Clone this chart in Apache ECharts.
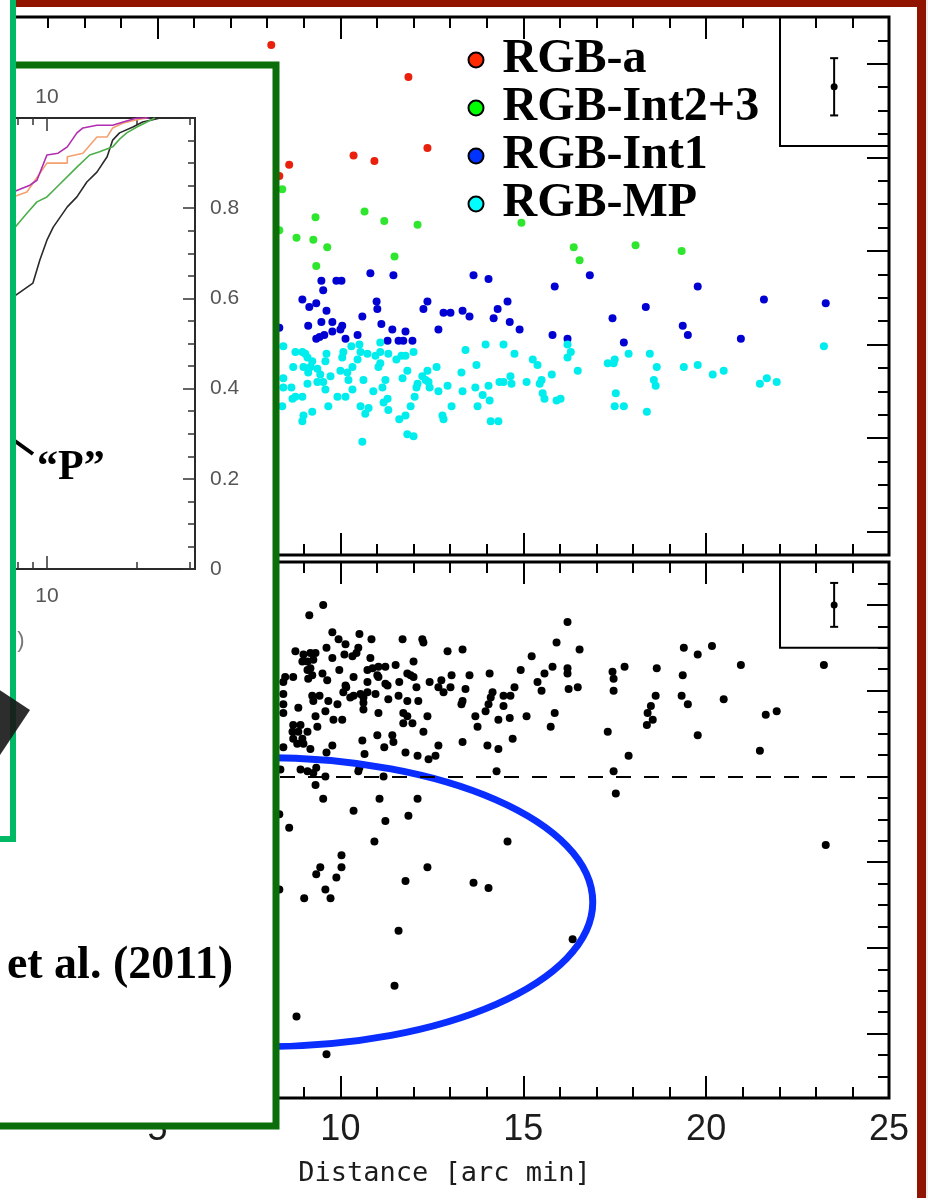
<!DOCTYPE html>
<html><head><meta charset="utf-8">
<script src="https://cdn.jsdelivr.net/npm/echarts@6/dist/echarts.min.js"></script>
<style>html,body{margin:0;padding:0;background:#fff;overflow:hidden}#c{width:928px;height:1198px;}</style>
</head><body><div id="c"></div>
<script>
// ---------- axis ranges / ticks ----------
const xRange = [0.693, 25];
const xMajorTicks = [5, 10, 15, 20, 25];
const xMinorTicks = [1, 2, 3, 4, 6, 7, 8, 9, 11, 12, 13, 14, 16, 17, 18, 19, 21, 22, 23, 24];
const upperYRange = [-2.625, 0.25];
const upperYMajors = [-2.5, -2, -1.5, -1, -0.5, 0];
const lowerYRange = [-1.875, 1.25];
const lowerYMajors = [-1.5, -1, -0.5, 0, 0.5, 1];
const insetXRange = [7.7, 31.3];
const insetXMinorTicks = [8, 9, 20, 30];
const insetXMajorTicks = [10];
const insetYLabels = [0, 0.2, 0.4, 0.6, 0.8];

// ---------- legend names ----------
const groupNames = ['RGB-a', 'RGB-Int2+3', 'RGB-Int1', 'RGB-MP'];

// ---------- upper panel: metallicity groups vs distance ----------
const redData = [[8.11,0.10],[11.86,-0.07],[8.60,-0.54],[8.33,-0.60],[10.36,-0.49],[10.93,-0.52],[12.38,-0.45]];
const greenData = [[8.41,-0.67],[9.32,-0.82],[10.66,-0.79],[11.20,-0.84],[12.11,-0.86],[8.80,-0.93],[9.26,-0.94],[9.64,-0.98],[8.33,-0.89],[11.48,-1.03],[9.34,-1.08],[14.95,-0.85],[16.38,-0.98],[16.54,-1.05],[18.07,-0.97],[19.33,-1.00]];
const blueData = [[10.82,-1.12],[11.45,-1.13],[13.64,-1.13],[14.05,-1.15],[15.86,-1.19],[9.48,-1.16],[9.89,-1.16],[10.03,-1.16],[9.53,-1.21],[8.96,-1.26],[9.15,-1.30],[9.34,-1.28],[9.62,-1.32],[10.99,-1.27],[11.01,-1.31],[12.38,-1.27],[12.27,-1.31],[12.82,-1.33],[13.01,-1.33],[13.34,-1.32],[13.53,-1.35],[14.57,-1.27],[14.30,-1.31],[14.19,-1.36],[14.63,-1.38],[10.60,-1.35],[9.48,-1.38],[9.12,-1.40],[9.78,-1.38],[9.78,-1.43],[10.05,-1.40],[10.00,-1.42],[9.56,-1.45],[9.43,-1.46],[9.34,-1.47],[10.14,-1.47],[10.47,-1.45],[11.12,-1.39],[11.42,-1.42],[11.78,-1.43],[11.29,-1.48],[11.59,-1.48],[11.72,-1.48],[11.97,-1.48],[12.68,-1.42],[14.90,-1.42],[15.80,-1.45],[16.21,-1.47],[8.33,-1.41],[16.82,-1.13],[19.77,-1.19],[21.58,-1.26],[23.27,-1.28],[18.35,-1.30],[17.44,-1.36],[19.36,-1.40],[19.50,-1.45],[17.75,-1.49],[20.95,-1.47]];
const cyanData = [[8.44,-1.51],[8.77,-1.54],[8.96,-1.54],[9.04,-1.55],[9.10,-1.57],[9.23,-1.59],[8.99,-1.62],[9.18,-1.62],[9.12,-1.65],[8.71,-1.62],[9.37,-1.63],[9.62,-1.55],[9.59,-1.59],[9.45,-1.66],[9.73,-1.67],[10.00,-1.64],[10.08,-1.54],[10.05,-1.57],[10.30,-1.51],[10.52,-1.50],[10.55,-1.54],[10.74,-1.55],[10.47,-1.58],[10.33,-1.62],[10.19,-1.65],[10.22,-1.69],[9.53,-1.70],[9.37,-1.70],[9.10,-1.71],[8.44,-1.68],[8.44,-1.73],[8.66,-1.73],[8.77,-1.78],[8.96,-1.78],[8.69,-1.79],[8.41,-1.83],[9.23,-1.86],[8.99,-1.88],[8.96,-1.91],[9.67,-1.83],[9.59,-1.74],[9.92,-1.78],[10.14,-1.78],[10.33,-1.74],[10.63,-1.69],[10.90,-1.75],[11.15,-1.73],[11.23,-1.69],[11.04,-1.62],[11.09,-1.60],[10.96,-1.56],[11.09,-1.54],[11.09,-1.49],[11.31,-1.55],[11.53,-1.58],[11.67,-1.56],[11.78,-1.56],[12.00,-1.54],[11.83,-1.64],[11.70,-1.68],[11.29,-1.79],[11.18,-1.81],[11.31,-1.85],[10.55,-1.83],[10.77,-1.84],[10.68,-1.87],[11.61,-1.90],[11.78,-1.88],[11.83,-1.98],[12.00,-1.99],[10.60,-2.02],[12.11,-1.71],[12.08,-1.73],[12.03,-1.78],[11.92,-1.83],[12.24,-1.67],[12.38,-1.64],[12.33,-1.69],[12.41,-1.70],[12.44,-1.73],[12.63,-1.62],[12.68,-1.75],[12.79,-1.88],[12.82,-1.90],[12.93,-1.72],[13.04,-1.83],[13.31,-1.65],[13.34,-1.75],[13.42,-1.53],[13.72,-1.61],[13.69,-1.73],[13.75,-1.83],[13.89,-1.77],[13.97,-1.50],[14.05,-1.72],[14.08,-1.80],[14.11,-1.91],[14.32,-1.91],[14.35,-1.70],[14.46,-1.70],[14.46,-1.50],[14.65,-1.67],[14.68,-1.71],[14.76,-1.55],[15.09,-1.70],[15.26,-1.58],[15.39,-1.61],[15.50,-1.69],[15.45,-1.71],[15.53,-1.76],[15.58,-1.79],[15.78,-1.66],[15.91,-1.80],[16.21,-1.57],[16.21,-1.50],[16.30,-1.54],[16.49,-1.64],[16.02,-1.79],[17.31,-1.60],[17.47,-1.60],[17.50,-1.58],[17.88,-1.55],[18.46,-1.55],[18.65,-1.62],[18.57,-1.69],[18.62,-1.72],[17.53,-1.76],[17.50,-1.83],[17.75,-1.83],[18.38,-1.86],[19.39,-1.62],[19.77,-1.61],[20.18,-1.66],[20.48,-1.64],[21.47,-1.71],[21.66,-1.68],[21.93,-1.70],[23.22,-1.51]];
const upperErrorBar = [[23.5, -0.123, 0.153]];
const upperBox = [[22.02, -0.44], [25, 0.25]];

// ---------- lower panel ----------
const lowerData = [[9.53,1.00],[9.15,0.94],[9.78,0.84],[10.52,0.83],[9.95,0.80],[10.85,0.80],[11.70,0.80],[12.24,0.80],[12.27,0.78],[9.62,0.75],[10.14,0.77],[10.49,0.75],[10.44,0.72],[10.33,0.70],[10.11,0.71],[8.77,0.73],[8.99,0.71],[9.18,0.72],[9.32,0.72],[8.96,0.67],[9.10,0.67],[9.26,0.68],[9.78,0.69],[10.82,0.69],[12.00,0.67],[12.93,0.73],[13.34,0.74],[15.23,0.70],[15.91,0.78],[16.21,0.90],[9.18,0.63],[9.10,0.62],[9.51,0.60],[9.97,0.62],[10.74,0.62],[10.88,0.63],[11.04,0.64],[11.23,0.64],[11.51,0.65],[11.83,0.60],[11.92,0.59],[12.00,0.58],[11.01,0.59],[11.04,0.58],[8.49,0.58],[8.71,0.58],[8.44,0.55],[9.23,0.59],[9.12,0.57],[9.64,0.56],[10.36,0.58],[10.14,0.53],[10.16,0.52],[10.08,0.49],[11.23,0.54],[11.29,0.53],[10.74,0.55],[11.61,0.55],[12.08,0.52],[12.44,0.55],[12.76,0.56],[12.82,0.49],[12.68,0.52],[13.04,0.59],[13.01,0.52],[13.53,0.59],[13.42,0.51],[13.34,0.44],[13.31,0.42],[14.08,0.60],[14.16,0.49],[14.11,0.46],[14.05,0.42],[14.46,0.47],[14.46,0.41],[14.65,0.47],[14.76,0.52],[14.93,0.62],[15.39,0.55],[15.50,0.50],[15.58,0.60],[15.80,0.64],[16.21,0.63],[16.21,0.60],[16.24,0.51],[8.44,0.48],[9.23,0.47],[9.43,0.47],[9.26,0.44],[9.67,0.44],[9.92,0.42],[10.27,0.46],[10.36,0.47],[10.55,0.48],[10.63,0.46],[10.63,0.43],[10.74,0.49],[10.96,0.48],[11.31,0.45],[11.59,0.47],[11.83,0.44],[12.13,0.44],[8.44,0.42],[8.85,0.40],[9.32,0.35],[9.59,0.38],[10.63,0.39],[11.04,0.37],[11.72,0.37],[11.83,0.35],[11.72,0.31],[11.97,0.31],[12.38,0.35],[8.44,0.37],[9.81,0.33],[10.05,0.33],[9.37,0.29],[8.71,0.30],[8.91,0.30],[8.69,0.26],[8.85,0.26],[9.10,0.26],[8.71,0.22],[8.96,0.22],[8.82,0.19],[8.99,0.19],[8.44,0.17],[9.18,0.16],[9.78,0.18],[9.62,0.14],[10.60,0.21],[11.01,0.24],[11.42,0.24],[11.45,0.20],[11.20,0.17],[10.66,0.13],[12.27,0.26],[11.78,0.14],[12.11,0.12],[12.41,0.10],[12.60,0.12],[12.68,0.18],[13.34,0.20],[13.69,0.35],[13.75,0.29],[13.97,0.38],[14.02,0.18],[14.32,0.33],[14.32,0.16],[14.63,0.34],[14.71,0.22],[15.09,0.35],[15.75,0.29],[15.86,0.37],[8.36,0.04],[8.91,0.04],[9.10,0.03],[9.34,0.05],[9.59,0.00],[9.26,0.02],[10.49,0.03],[10.52,0.05],[11.18,0.00],[9.32,-0.05],[9.53,-0.13],[10.36,-0.20],[11.07,-0.13],[12.11,-0.13],[11.23,-0.26],[11.86,-0.23],[14.27,0.03],[8.33,-0.22],[8.60,-0.30],[10.93,-0.38],[14.57,-0.38],[10.03,-0.46],[9.45,-0.53],[9.34,-0.57],[10.03,-0.53],[9.89,-0.59],[9.59,-0.66],[9.73,-0.71],[9.01,-0.71],[8.33,-0.66],[11.78,-0.61],[12.38,-0.53],[13.64,-0.62],[14.05,-0.65],[11.59,-0.90],[11.48,-1.22],[8.80,-1.40],[9.62,-1.62],[16.35,-0.95],[16.54,0.74],[16.49,0.52],[17.44,0.61],[17.47,0.57],[17.47,0.50],[17.77,0.64],[18.65,0.63],[18.62,0.47],[18.49,0.41],[18.40,0.37],[18.38,0.30],[18.54,0.33],[17.31,0.26],[17.88,0.12],[17.47,0.03],[17.53,-0.10],[19.39,0.75],[19.77,0.71],[20.16,0.76],[19.36,0.59],[19.33,0.47],[19.50,0.42],[19.77,0.24],[20.48,0.45],[20.95,0.65],[21.63,0.36],[21.93,0.38],[21.47,0.15],[23.22,0.65],[23.27,-0.40]];
const lowerReferenceLevel = 0;
const lowerErrorBar = [[23.5, 1.0, 0.128]];
const lowerBox = [[22.02, 0.75], [25, 1.25]];
// circled group: centre (x, y) and semi-axes (dx, dy) in data units
const circledRegion = [[7.87, -0.733, 9.03, 0.843]];

// ---------- inset: cumulative radial distributions (log distance) ----------
const cumMagenta = [[7.7,0.836],[8.77,0.851],[9.26,0.862],[10,0.918],[10.9,0.922],[11.7,0.936],[12.6,0.967],[13.2,0.978],[14.7,0.984],[16.6,0.984],[18.0,0.991],[20.0,1.0],[22.0,1.0]];
const cumOrange = [[7.7,0.825],[8.57,0.836],[10,0.900],[11.7,0.900],[11.7,0.914],[13.2,0.922],[14.7,0.958],[15.9,0.958],[16.6,0.978],[18.0,0.989],[20.0,0.996],[21.6,1.0]];
const cumGreen = [[7.7,0.752],[8.57,0.789],[9.26,0.814],[10,0.825],[10.8,0.847],[12.6,0.891],[13.9,0.918],[15.0,0.925],[16.6,0.936],[17.5,0.953],[18.5,0.967],[20.0,0.980],[21.6,0.991],[23.0,1.0]];
const cumBlack = [[7.7,0.603],[8.98,0.634],[9.47,0.685],[10,0.729],[10.5,0.758],[11.7,0.803],[12.6,0.825],[13.6,0.858],[14.7,0.880],[15.9,0.914],[16.6,0.951],[17.5,0.967],[19.4,0.980],[20.9,0.991],[22.6,0.996],[23.9,1.0]];

// ---------- texts ----------
const xAxisTitle = 'Distance [arc min]';
const annotationP = '\u201cP\u201d';
const citationText = 'et al. (2011)';

// ======================================================
const TICK = {color:'#000', width:2};
const mainFont = "'Liberation Sans Narrow','Liberation Sans',sans-serif";
const NOLINE = {show:false, onZero:false};

function mainX(grid, pos, ticks, len, labels) {
  return {
    type:'value', gridIndex:grid, position:pos, min:xRange[0], max:xRange[1],
    axisLine:NOLINE, splitLine:{show:false}, minorTick:{show:false},
    axisTick:{show:true, inside:true, length:len, lineStyle:TICK, customValues:ticks},
    axisLabel: labels ? {show:true, margin:14, fontSize:36, color:'#1c1c1c', fontFamily:mainFont,
                         customValues:xMajorTicks} : {show:false},
    name: labels ? xAxisTitle : '', nameLocation:'middle', nameGap:62,
    nameTextStyle:{fontFamily:"'DejaVu Sans Mono',monospace", fontSize:27, color:'#1c1c1c'}
  };
}
function mainYMajor(grid, range, majors) {
  return {type:'value', gridIndex:grid, position:'right', min:range[0], max:range[1],
    axisLine:NOLINE, splitLine:{show:false}, axisLabel:{show:false},
    axisTick:{show:true, inside:true, length:22, lineStyle:TICK, customValues:majors}};
}
function mainYMinor(grid, range) {
  return {type:'value', gridIndex:grid, position:'right', min:range[0], max:range[1], interval:0.125,
    axisLine:NOLINE, splitLine:{show:false}, axisLabel:{show:false},
    axisTick:{show:true, inside:true, length:11, lineStyle:TICK}};
}
function insetX(pos, ticks, len, labels) {
  return {type:'log', logBase:10, gridIndex:2, position:pos, min:insetXRange[0], max:insetXRange[1], z:20,
    axisLine:NOLINE, splitLine:{show:false}, minorTick:{show:false},
    axisTick:{show:true, inside:true, length:len, lineStyle:{color:'#333', width:1.5}, customValues:ticks},
    axisLabel: labels ? {show:true, customValues:insetXMajorTicks, color:'#555', fontSize:21,
                         fontFamily:'Liberation Sans', margin: pos==='top'?10:17} : {show:false}};
}

function renderErr(params, api) {
  const x = api.value(0), y = api.value(1), e = api.value(2);
  const c = api.coord([x, y]), t = api.coord([x, y + e]), b = api.coord([x, y - e]);
  const st = {stroke:'#000', lineWidth:2};
  return {type:'group', children:[
    {type:'line', shape:{x1:c[0], y1:t[1], x2:c[0], y2:b[1]}, style:st},
    {type:'line', shape:{x1:c[0]-4, y1:t[1], x2:c[0]+4, y2:t[1]}, style:st},
    {type:'line', shape:{x1:c[0]-4, y1:b[1], x2:c[0]+4, y2:b[1]}, style:st},
    {type:'circle', shape:{cx:c[0], cy:c[1], r:3.5}, style:{fill:'#000'}}
  ]};
}
function renderEllipse(params, api) {
  const c = api.coord([api.value(0), api.value(1)]);
  const s = api.size([api.value(2), api.value(3)]);
  return {type:'ellipse', shape:{cx:c[0], cy:c[1], rx:s[0], ry:s[1]},
          style:{fill:'none', stroke:'#0a2eff', lineWidth:7}};
}
function boxArea(b) {
  return {silent:true, itemStyle:{color:'rgba(0,0,0,0)', borderColor:'#000', borderWidth:2},
    data:[[{xAxis:b[0][0], yAxis:b[0][1]}, {xAxis:b[1][0], yAxis:b[1][1]}]]};
}
function cumLine(data, color) {
  return {type:'line', xAxisIndex:8, yAxisIndex:4, data:data, showSymbol:false, z:21,
          lineStyle:{color:color, width:1.6}, silent:true};
}
function dots(name, xi, yi, data, color, extra) {
  return Object.assign({name:name, type:'scatter', xAxisIndex:xi, yAxisIndex:yi, data:data, symbolSize:8,
    itemStyle:{color:color, opacity:1}, z:2, silent:true}, extra || {});
}

const option = {
  animation:false,
  backgroundColor:'#ffffff',
  grid:[
    {left:0, top:17, width:889, height:538, show:true, borderColor:'#000', borderWidth:3, backgroundColor:'rgba(0,0,0,0)'},
    {left:0, top:562, width:889, height:536, show:true, borderColor:'#000', borderWidth:3, backgroundColor:'rgba(0,0,0,0)'},
    {left:13, top:118, width:182, height:451, show:true, borderColor:'#2a2a2a', borderWidth:2, backgroundColor:'rgba(0,0,0,0)', z:20}
  ],
  legend:{
    left:467.5, top:36, orient:'vertical', padding:0, itemGap:0, itemWidth:15, itemHeight:15,
    icon:'circle', selectedMode:false, z:50,
    textStyle:{fontFamily:"'Liberation Serif',serif", fontWeight:'bold', fontSize:48, color:'#000',
               lineHeight:45, padding:[0,0,0,14]},
    data:[
      {name:groupNames[0], itemStyle:{color:'#ff2a00', borderColor:'#000', borderWidth:2, opacity:1}},
      {name:groupNames[1], itemStyle:{color:'#00ff00', borderColor:'#000', borderWidth:2, opacity:1}},
      {name:groupNames[2], itemStyle:{color:'#0033ff', borderColor:'#000', borderWidth:2, opacity:1}},
      {name:groupNames[3], itemStyle:{color:'#00ffff', borderColor:'#000', borderWidth:2, opacity:1}}
    ]
  },
  xAxis:[
    mainX(0,'bottom', xMajorTicks, 22, false), mainX(0,'top', xMajorTicks, 22, false),
    mainX(0,'bottom', xMinorTicks, 11, false), mainX(0,'top', xMinorTicks, 11, false),
    mainX(1,'bottom', xMajorTicks, 22, true), mainX(1,'top', xMajorTicks, 22, false),
    mainX(1,'bottom', xMinorTicks, 11, false), mainX(1,'top', xMinorTicks, 11, false),
    insetX('bottom', insetXMinorTicks, 7, true), insetX('top', insetXMinorTicks, 7, true),
    insetX('bottom', insetXMajorTicks, 13, false), insetX('top', insetXMajorTicks, 13, false)
  ],
  yAxis:[
    mainYMajor(0, upperYRange, upperYMajors), mainYMinor(0, upperYRange),
    mainYMajor(1, lowerYRange, lowerYMajors), mainYMinor(1, lowerYRange),
    {type:'value', gridIndex:2, position:'right', min:0, max:1, interval:0.2, z:20,
     axisLine:NOLINE, splitLine:{show:false},
     axisTick:{show:true, inside:true, length:12, lineStyle:{color:'#333', width:1.5}},
     minorTick:{show:true, splitNumber:4, length:7, lineStyle:{color:'#333', width:1.5}},
     axisLabel:{show:true, customValues:insetYLabels, margin:15, color:'#555', fontSize:21, fontFamily:'Liberation Sans'}}
  ],
  series:[
    dots(groupNames[0], 0, 0, redData, '#e8200c'),
    dots(groupNames[1], 0, 0, greenData, '#2ee62e'),
    dots(groupNames[2], 0, 0, blueData, '#0000d2'),
    dots(groupNames[3], 0, 0, cyanData, '#00eded', {markArea:boxArea(upperBox)}),
    {type:'custom', xAxisIndex:0, yAxisIndex:0, data:upperErrorBar, renderItem:renderErr, z:3, silent:true},
    dots('all', 4, 2, lowerData, '#000', {
      markLine:{silent:true, symbol:'none', label:{show:false},
                lineStyle:{color:'#000', width:2, type:[15,13], opacity:1}, data:[{yAxis:lowerReferenceLevel}]},
      markArea:boxArea(lowerBox)}),
    {type:'custom', xAxisIndex:4, yAxisIndex:2, data:lowerErrorBar, renderItem:renderErr, z:3, silent:true},
    {type:'custom', xAxisIndex:4, yAxisIndex:2, data:circledRegion, renderItem:renderEllipse, z:4, clip:false, silent:true},
    cumLine(cumBlack, '#2a2a2a'), cumLine(cumGreen, '#4caf4c'), cumLine(cumOrange, '#f4a070'), cumLine(cumMagenta, '#b02cb0')
  ],
  graphic:[
    {type:'rect', z:10, shape:{x:-20, y:65, width:296, height:1061}, style:{fill:'#fff', stroke:'#0b6e0b', lineWidth:7}},
    {type:'text', z:42, style:{text:annotationP, x:37, y:468, font:'bold 42px "Liberation Serif"', fill:'#000', verticalAlign:'middle', align:'left'}},
    {type:'text', z:42, style:{text:citationText, x:233, y:966, font:'bold 46px "Liberation Serif"', fill:'#000', verticalAlign:'middle', align:'right'}},
    {type:'text', z:25, style:{text:')', x:21, y:641, font:'22px "Liberation Sans"', fill:'#777', verticalAlign:'middle', align:'center'}},
    {type:'line', z:39, shape:{x1:8, y1:436, x2:33, y2:454}, style:{stroke:'#000', lineWidth:4}},
    {type:'rect', z:40, shape:{x:-20, y:-20, width:33, height:859}, style:{fill:'#fff', stroke:'#00b964', lineWidth:6}},
    {type:'polygon', z:41, shape:{points:[[-2,689],[30,710],[-2,758]]}, style:{fill:'rgba(22,22,22,0.9)'}},
    {type:'rect', z:50, shape:{x:16, y:0, width:912, height:7}, style:{fill:'#911400'}},
    {type:'rect', z:50, shape:{x:917, y:0, width:9, height:1198}, style:{fill:'#911400'}},
    {type:'rect', z:50, shape:{x:926, y:0, width:2, height:1198}, style:{fill:'#eeeeee'}}
  ]
};
const chart = echarts.init(document.getElementById('c'), null, {renderer:'canvas'});
chart.setOption(option);
</script></body></html>
